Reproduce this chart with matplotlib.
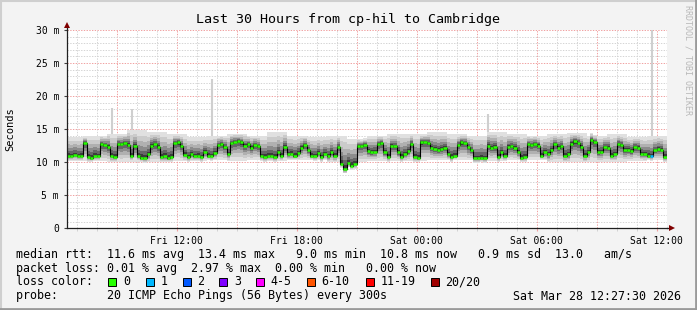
import numpy as np
import matplotlib
matplotlib.use("Agg")
import matplotlib.pyplot as plt
from matplotlib.lines import Line2D
from matplotlib.patches import Rectangle

plt.rcParams["font.family"] = ["DejaVu Sans Mono"]

# median rtt (ms), one value per 10 minutes, Fri 06:30 -> Sat 12:30
median = [
    11.0, 10.9, 11.1, 10.9, 11.0, 12.9, 10.8, 10.7, 11.0, 10.9,
    12.7, 12.6, 12.3, 11.0, 10.8, 12.8, 12.7, 12.9, 12.6, 11.0,
    12.4, 10.9, 10.7, 10.6, 11.2, 12.5, 12.7, 12.3, 10.8, 10.9,
    10.7, 10.8, 12.9, 13.0, 12.4, 11.1, 10.8, 11.2, 10.9, 11.0,
    10.8, 11.6, 11.0, 10.9, 11.4, 12.6, 12.8, 12.3, 11.2, 12.9,
    13.1, 13.2, 13.0, 12.5, 12.7, 12.2, 12.6, 12.4, 10.9, 10.8,
    11.0, 10.9, 10.8, 11.5, 11.0, 12.3, 11.2, 11.3, 11.0, 11.4,
    12.2, 12.6, 11.8, 11.0, 10.9, 11.4, 10.8, 11.3, 10.9, 11.5,
    11.0, 12.3, 9.8, 9.0, 9.9, 9.5, 9.7, 12.5, 12.4, 12.6,
    11.7, 11.5, 11.6, 12.7, 12.9, 11.5, 10.8, 12.5, 12.4, 11.5,
    10.8, 11.2, 11.7, 12.8, 10.8, 10.7, 13.0, 13.1, 12.9, 12.2,
    12.0, 11.8, 12.0, 12.1, 11.2, 10.8, 11.0, 12.6, 13.0, 12.9,
    12.3, 11.8, 10.6, 10.6, 10.7, 10.6, 12.5, 12.2, 12.3, 10.8,
    11.5, 10.9, 12.3, 12.4, 12.2, 11.5, 10.7, 10.8, 12.7, 12.6,
    12.8, 12.5, 11.0, 11.5, 11.2, 11.8, 12.7, 12.2, 12.4, 11.0,
    11.2, 12.8, 13.2, 12.9, 12.3, 11.0, 11.6, 13.4, 13.1, 11.5,
    11.6, 12.3, 12.2, 11.0, 11.2, 12.8, 12.6, 11.8, 11.9, 11.7,
    12.3, 12.2, 11.3, 11.2, 11.0, 10.9, 11.8, 12.0, 11.9, 10.8,
]
# steps with packet loss (index, lost pings of 20)
loss_idx = [175]
loss_cnt = [1]

# smoke extent per hour (ms)
smoke_lo = [10.2, 10.2, 10.0, 10.1, 10.0, 10.2, 10.2, 10.3, 10.2, 10.3,
            10.2, 10.3, 10.3, 10.0, 10.0, 10.2, 10.2, 10.2, 10.3, 10.3,
            10.3, 10.2, 10.3, 10.3, 10.0, 10.0, 10.1, 10.1, 10.2, 10.3]
smoke_hi = [13.8, 14.0, 14.3, 14.8, 14.5, 14.2, 13.8, 14.0, 14.3, 14.0,
            14.5, 14.0, 13.8, 14.0, 13.5, 14.0, 14.3, 14.2, 14.5, 14.2,
            14.0, 14.6, 14.3, 14.0, 14.3, 14.4, 14.0, 14.2, 13.8, 14.0]

# single slow pings
spike_idx = [13, 19, 43, 126, 175]
spike_top = [18.2, 18.0, 22.6, 17.3, 30.0]

tick_hours = [12, 18, 24, 30, 36]
tick_labels = ["Fri 12:00", "Fri 18:00", "Sat 00:00", "Sat 06:00", "Sat 12:00"]

loss_names = ["0", "1", "2", "3", "4-5", "6-10", "11-19", "20/20"]
loss_colors = ["#26ff00", "#00b8ff", "#0059ff", "#7e00ff", "#ff00ff",
               "#ff5500", "#ff0000", "#a00000"]

W, H = 697, 310
fig = plt.figure(figsize=(W / 100, H / 100), dpi=100, facecolor="#f3f3f3")
x0, x1, ytop, ybot = 66.7, 666.7, 30.0, 228.3
ax = fig.add_axes([x0 / W, (H - ybot) / H, (x1 - x0) / W, (ybot - ytop) / H])
ax.set_facecolor("white")

n = len(median)
med = np.array(median)
t = 6.5 + np.arange(n + 1) / 6.0
hour = np.arange(n) // 6
lo = np.minimum(np.array(smoke_lo)[hour], med - 0.7)
hi = np.maximum(np.array(smoke_hi)[hour], med + 1.0)

# grid
for h in range(7, 37):
    ax.axvline(h, color="#f0a0a0" if h % 3 == 0 else "#d4d4d4", lw=0.7,
               ls=(0, (1.4, 1.4)), zorder=0.5)
for v in range(1, 31):
    ax.axhline(v, color="#f0a0a0" if v % 5 == 0 else "#d4d4d4", lw=0.7,
               ls=(0, (1.4, 1.4)), zorder=0.5)

# smoke
fracs = [1.0, 0.8, 0.6, 0.42, 0.26, 0.12]
greys = ["#e0e0e0", "#cbcbcb", "#b0b0b0", "#8c8c8c", "#666666", "#3c3c3c"]
for f, g in zip(fracs, greys):
    b = med - (med - lo) * f
    u = med + (hi - med) * f
    ax.fill_between(t, np.append(b, b[-1]), np.append(u, u[-1]), step="post",
                    color=g, lw=0, zorder=2)

for i, top in zip(spike_idx, spike_top):
    ax.vlines(t[i] + 1 / 12, hi[i], top, color="#cfcfcf", lw=1.5, zorder=1.8)

# median
ax.step(t, np.append(med, med[-1]), where="post", color="black", lw=0.8, zorder=3)
cols = [loss_colors[0]] * n
for i, c in zip(loss_idx, loss_cnt):
    cols[i] = loss_colors[c]
ax.hlines(med, t[:-1], t[1:], colors=cols, lw=1.8, zorder=4)

ax.set_xlim(6.5, 36.5)
ax.set_ylim(0, 30)
for s in ["top", "right"]:
    ax.spines[s].set_visible(False)
for s in ["left", "bottom"]:
    ax.spines[s].set_color("#202020")
    ax.spines[s].set_linewidth(0.9)
    ax.spines[s].set_zorder(5)

ax.set_xticks(tick_hours)
ax.set_xticklabels(tick_labels, fontsize=7)
ax.set_xticks(range(7, 37), minor=True)
ax.tick_params(axis="x", which="major", length=2.5, color="#f0a0a0", pad=3)
ax.tick_params(axis="x", which="minor", length=2, color="#cccccc")
ax.set_yticks(range(0, 31, 5))
ax.set_yticklabels(["0"] + ["%d m" % v for v in range(5, 31, 5)], fontsize=7)
ax.tick_params(axis="y", length=2.5, color="#404040", pad=3)

# axis arrows
ax.plot([36.5, 36.7], [0, 0], color="#202020", lw=0.9, clip_on=False, zorder=5)
ax.plot([36.75], [0], marker=">", ms=4.5, color="#800000", mew=0,
        clip_on=False, zorder=6)
ax.plot([6.5, 6.5], [30, 30.6], color="#202020", lw=0.9, clip_on=False, zorder=5)
ax.plot([6.5], [30.75], marker="^", ms=4.5, color="#800000", mew=0,
        clip_on=False, zorder=6)

ax.set_ylabel("Seconds", fontsize=7.5, va="center")
ax.yaxis.set_label_coords((10.5 - x0) / (x1 - x0), 0.5)

def px(x, y):
    return x / W, 1 - y / H

fig.text(*px(348, 19), "Last 30 Hours from cp-hil to Cambridge",
         fontsize=9.6, ha="center", va="center")
fig.text(*px(688, 5), "RRDTOOL / TOBI OETIKER", fontsize=6, color="#b8b8b8",
         rotation=270, ha="center", va="top")

fs = 8.4
lines = [
    (254.3, "median rtt:  11.6 ms avg  13.4 ms max   9.0 ms min  10.8 ms now   0.9 ms sd  13.0   am/s"),
    (268.3, "packet loss: 0.01 % avg  2.97 % max  0.00 % min   0.00 % now"),
    (296, "probe:       20 ICMP Echo Pings (56 Bytes) every 300s"),
]
for y, s in lines:
    fig.text(*px(16, y), s, fontsize=fs, ha="left", va="center")
fig.text(*px(681, 296), "Sat Mar 28 12:27:30 2026", fontsize=fs,
         ha="right", va="center")

fig.text(*px(16, 281.7), "loss color:", fontsize=fs, ha="left", va="center")
box_x = [108.3, 145.7, 182.7, 219.3, 256, 306.7, 365.7, 430.7]
for bx, name, c in zip(box_x, loss_names, loss_colors):
    fig.add_artist(Rectangle(px(bx, 285.7), 8 / W, 8 / H, facecolor=c,
                             edgecolor="black", lw=0.7, transform=fig.transFigure))
    fig.text(*px(bx + 14.7, 281.7), name, fontsize=fs, ha="left", va="center")

# frame
fig.add_artist(Line2D([0, 1], [1 - 1 / H, 1 - 1 / H], color="#cfcfcf", lw=1.5))
fig.add_artist(Line2D([1 / W, 1 / W], [0, 1], color="#cfcfcf", lw=1.5))
fig.add_artist(Line2D([0, 1], [1.5 / H, 1.5 / H], color="#9a9a9a", lw=2))
fig.add_artist(Line2D([1 - 1.5 / W, 1 - 1.5 / W], [0, 1], color="#9a9a9a", lw=2))

fig.savefig("out.png", dpi=100, facecolor=fig.get_facecolor())
